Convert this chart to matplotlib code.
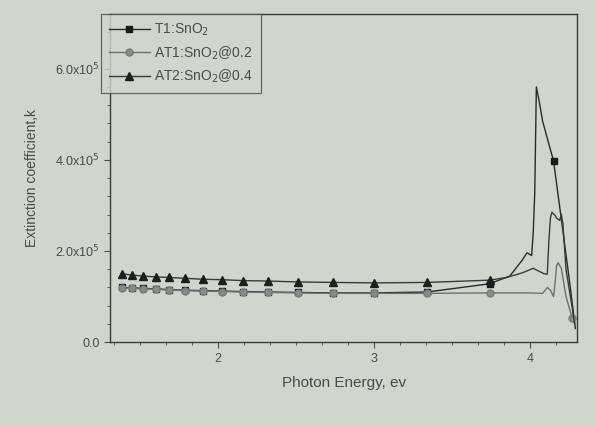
import matplotlib.pyplot as plt
from matplotlib.ticker import MultipleLocator, FixedLocator, FixedFormatter

# photon energy (eV) where the symbols sit, shared by all three films
e_marks = [1.383, 1.451, 1.521, 1.603, 1.688, 1.788, 1.902, 2.024, 2.162,
           2.323, 2.515, 2.739, 3.002, 3.34, 3.74]

# extinction coefficient at the symbol positions
k_t1_marks = [1.20, 1.19, 1.18, 1.17, 1.15, 1.14, 1.13, 1.12, 1.11,
              1.10, 1.09, 1.08, 1.08, 1.10, 1.28]
k_at1_marks = [1.19, 1.18, 1.17, 1.16, 1.14, 1.13, 1.12, 1.11, 1.10,
               1.09, 1.08, 1.07, 1.07, 1.07, 1.08]
k_at2_marks = [1.50, 1.47, 1.45, 1.43, 1.42, 1.40, 1.38, 1.37, 1.35,
               1.34, 1.32, 1.31, 1.30, 1.31, 1.36]

# absorption-edge region (above 3.74 eV)
e_t1_tail = [3.87, 3.95, 3.98, 4.01, 4.02, 4.03, 4.04, 4.06, 4.08, 4.12, 4.15, 4.20, 4.25, 4.29]
k_t1_tail = [1.45, 1.80, 1.96, 1.90, 2.40, 3.30, 5.60, 5.25, 4.85, 4.35, 3.98, 2.70, 1.40, 0.30]

e_at1_tail = [4.00, 4.08, 4.10, 4.11, 4.13, 4.15, 4.16, 4.17, 4.18, 4.20, 4.23, 4.27, 4.285]
k_at1_tail = [1.08, 1.07, 1.15, 1.20, 1.14, 1.00, 1.30, 1.69, 1.74, 1.62, 1.00, 0.52, 0.40]

e_at2_tail = [3.85, 3.95, 4.02, 4.06, 4.09, 4.11, 4.12, 4.13, 4.14, 4.16, 4.17, 4.19,
              4.20, 4.21, 4.23, 4.27, 4.285]
k_at2_tail = [1.42, 1.52, 1.62, 1.55, 1.50, 1.49, 2.20, 2.72, 2.85, 2.78, 2.72, 2.67,
              2.81, 2.60, 1.60, 0.75, 0.40]

labels = ["T1:SnO$_2$", "AT1:SnO$_2$@0.2", "AT2:SnO$_2$@0.4"]
y_ticks = [0.0, 2.0, 4.0, 6.0]
y_ticklabels = ["0.0", "2.0x10$^5$", "4.0x10$^5$", "6.0x10$^5$"]
x_ticks = [2, 3, 4]

plt.rcParams['font.family'] = ['Liberation Sans', 'DejaVu Sans']
paper = '#cfd7cd'
ink = '#4a4a4a'

fig = plt.figure(figsize=(5.96, 4.25), dpi=100, facecolor=paper)
ax = fig.add_axes([0.185, 0.195, 0.783, 0.772], facecolor=paper)

n = len(e_marks)
ax.plot(e_marks + e_t1_tail, k_t1_marks + k_t1_tail, color='#2a2a2a', lw=1.0,
        marker='s', ms=4.5, mfc='#1a1a1a', mec='#1a1a1a',
        markevery=list(range(n)) + [n + e_t1_tail.index(4.15)], label=labels[0])
ax.plot(e_marks + e_at1_tail, k_at1_marks + k_at1_tail, color='#6f6f6f', lw=1.0,
        marker='o', ms=5, mfc='#8a8a8a', mec='#7a7a7a',
        markevery=list(range(n)) + [n + len(e_at1_tail) - 2], label=labels[1])
ax.plot(e_marks + e_at2_tail, k_at2_marks + k_at2_tail, color='#3a3a3a', lw=1.0,
        marker='^', ms=5.5, mfc='#1e1e1e', mec='#1e1e1e',
        markevery=list(range(n)), label=labels[2])

ax.set_xlim(1.31, 4.30)
ax.set_ylim(0, 7.2)

ax.xaxis.set_major_locator(FixedLocator(x_ticks))
ax.xaxis.set_minor_locator(MultipleLocator(1 / 6))
ax.yaxis.set_major_locator(FixedLocator(y_ticks))
ax.yaxis.set_major_formatter(FixedFormatter(y_ticklabels))
ax.yaxis.set_minor_locator(MultipleLocator(0.4))
ax.tick_params(which='both', direction='out', colors=ink, labelsize=9)
ax.tick_params(which='major', length=4)
ax.tick_params(which='minor', length=2.5)
for s in ax.spines.values():
    s.set_color('#3a3a3a')
    s.set_linewidth(1.0)

ax.set_xlabel("Photon Energy, ev", fontsize=11, color=ink, labelpad=8)
ax.set_ylabel("Extinction coefficient,k", fontsize=10, color=ink, labelpad=12)

leg = ax.legend(loc='upper left', bbox_to_anchor=(-0.02, 1.0), borderaxespad=0,
                fontsize=10, frameon=True, fancybox=False, handlelength=3.0,
                labelspacing=0.45, borderpad=0.55, handletextpad=0.3, labelcolor=ink)
leg.get_frame().set_facecolor(paper)
leg.get_frame().set_edgecolor('#4a4a4a')
leg.get_frame().set_linewidth(0.9)

fig.savefig("out.png", dpi=100, facecolor=paper)
